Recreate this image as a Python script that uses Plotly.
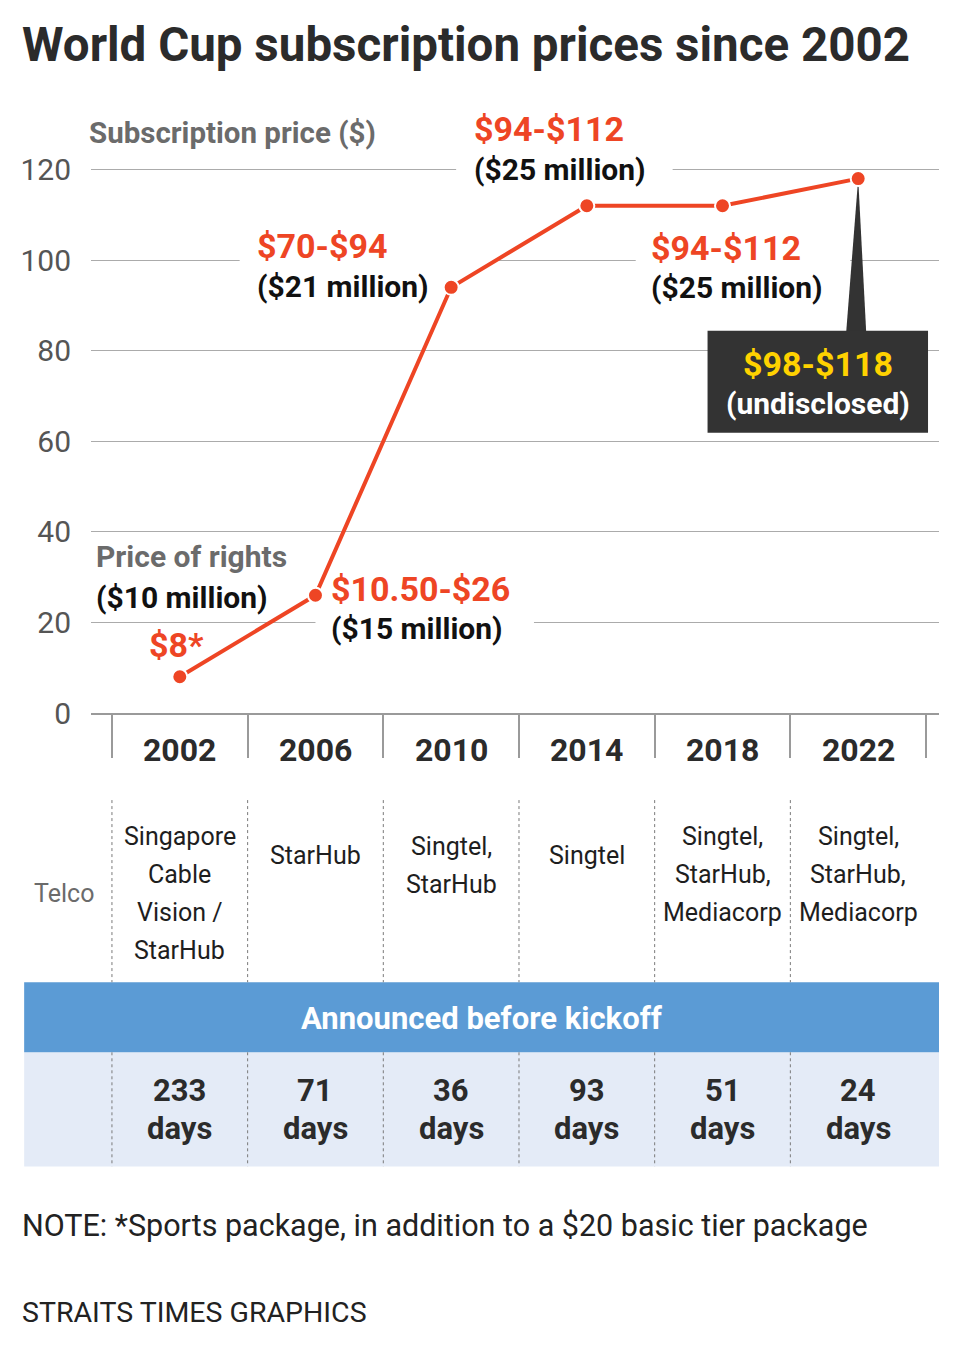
import plotly.graph_objects as go

# ---------------- data ----------------
years = [2002, 2006, 2010, 2014, 2018, 2022]
price_top = [8, 26, 94, 112, 112, 118]
price_labels = ["$8*", "$10.50-$26", "$70-$94", "$94-$112", "$94-$112", "$98-$118"]
rights_labels = ["($10 million)", "($15 million)", "($21 million)", "($25 million)",
                 "($25 million)", "(undisclosed)"]
telcos = [["Singapore", "Cable", "Vision /", "StarHub"],
          ["StarHub"],
          ["Singtel,", "StarHub"],
          ["Singtel"],
          ["Singtel,", "StarHub,", "Mediacorp"],
          ["Singtel,", "StarHub,", "Mediacorp"]]
days_before = [233, 71, 36, 93, 51, 24]
y_ticks = [0, 20, 40, 60, 80, 100, 120]

title_text = "World Cup subscription prices since 2002"
note_text = "NOTE: *Sports package, in addition to a $20 basic tier package"
credit_text = "STRAITS TIMES GRAPHICS"

# ---------------- style / layout ----------------
OFF = 8                                  # page body margin
PAGE_W, PAGE_H = 960, 1356
L, R, B = 89, 939, 713                   # plot area edges in page pixels
KY = (713 - 170) / 120.0                 # pixels per $ on y
YMAX = 121
T = B - YMAX * KY
COL = 34.0                               # pixels per year
X0 = years[0] - (178 - L) / COL
X1 = X0 + (R - L) / COL

RED = "#ee4524"
GREY = "#6b6b6b"
FONT = "Roboto"


def PX(px):
    return (px - L) / (R - L)


def PY(py):
    return (B - py) / (B - T)


def DX(px):
    return X0 + (px - L) / COL


def DY(py):
    return (B - py) / KY


fig = go.Figure()

fig.add_trace(go.Scatter(
    x=years, y=price_top, mode="lines+markers",
    line=dict(color=RED, width=4),
    marker=dict(size=15, color=RED, line=dict(color="white", width=2)),
    cliponaxis=False, hoverinfo="skip", showlegend=False,
))

annotations = []
shapes = []


def ann(text, x, y, size, color, bold=False, xanchor="left", xref="paper", yref="paper"):
    annotations.append(dict(
        text=text, x=x, y=y, xref=xref, yref=yref, xanchor=xanchor, yanchor="middle",
        showarrow=False, borderpad=0,
        font=dict(family=FONT, size=size, color=color, weight=700 if bold else 400),
    ))


# title and axis caption
ann(title_text, PX(19), PY(46), 47.5, "#2b2b2b", bold=True)
ann("Subscription price ($)", PX(86), PY(134), 29.5, GREY, bold=True)

# white masks breaking gridlines behind labels
masks = [(120, 455, 672), (100, 238, 497), (100, 635, 850), (20, 314, 533)]
for val, a, b in masks:
    shapes.append(dict(type="rect", xref="x", yref="y", x0=DX(a), x1=DX(b),
                       y0=val - 1.3, y1=val + 1.3, fillcolor="white",
                       line=dict(width=0), layer="between"))

# point labels (left pixel, red-line centre, black-line centre)
label_pos = [(150, 645, 598), (333, 589, 629), (258, 246, 287),
             (476, 130, 170), (653, 248, 288)]
for i, (lx, ry, by) in enumerate(label_pos):
    ann(price_labels[i], PX(lx - 4), PY(ry), 34, RED, bold=True)
    if i == 0:
        ann(rights_labels[i], PX(93), PY(by), 30, "#111111", bold=True)
    else:
        ann(rights_labels[i], PX(lx - 4), PY(by), 30, "#111111", bold=True)
ann("Price of rights", PX(93), PY(557), 30, GREY, bold=True)

# 2022 call-out box with pointer
shapes.append(dict(type="path", xref="x", yref="y",
                   path=f"M {years[-1]} {price_top[-1]} L {DX(846)} {DY(332)} L {DX(866)} {DY(332)} Z",
                   fillcolor="#333333", line=dict(width=0), layer="between"))
shapes.append(dict(type="rect", xref="x", yref="y", x0=DX(707), x1=DX(928),
                   y0=DY(433), y1=DY(331), fillcolor="#333333", line=dict(width=0),
                   layer="between"))
ann(price_labels[-1], PX(818), PY(364), 34, "#ffd200", bold=True, xanchor="center")
ann(rights_labels[-1], PX(818), PY(404), 30, "white", bold=True, xanchor="center")

# year labels under axis
for yr in years:
    ann(str(yr), yr, PY(750), 32, "#2b2b2b", bold=True, xanchor="center", xref="x")

# ---------------- table ----------------
boundaries = [yr - 2 for yr in years]
for bx in boundaries:
    for ya, yb in [(800, 982), (1052, 1166)]:
        shapes.append(dict(type="line", xref="x", yref="paper", x0=bx, x1=bx,
                           y0=PY(ya), y1=PY(yb),
                           line=dict(color="#7a7a7a", width=1, dash="3px,3px"),
                           layer="above"))

ann("Telco", PX(31), PY(893), 25, GREY)
telco_center = {1: 855, 2: 865, 3: 874, 4: 893}
LINE_GAP = 38
for yr, lines in zip(years, telcos):
    n = len(lines)
    c = telco_center[n]
    for j, line in enumerate(lines):
        yy = c + (j - (n - 1) / 2) * LINE_GAP
        ann(line, yr, PY(yy), 25, "#1e1e1e", xanchor="center", xref="x")

shapes.insert(0, dict(type="rect", xref="paper", yref="paper", x0=PX(22), x1=PX(939),
                      y0=PY(1052), y1=PY(982), fillcolor="#5b9bd5",
                      line=dict(width=0), layer="below"))
shapes.insert(0, dict(type="rect", xref="paper", yref="paper", x0=PX(22), x1=PX(939),
                      y0=PY(1166), y1=PY(1052), fillcolor="#e4ebf7",
                      line=dict(width=0), layer="below"))
ann("Announced before kickoff", PX(481), PY(1018), 31, "white", bold=True, xanchor="center")
for yr, d in zip(years, days_before):
    ann(str(d), yr, PY(1090), 31, "#2b2b2b", bold=True, xanchor="center", xref="x")
    ann("days", yr, PY(1128), 31, "#2b2b2b", bold=True, xanchor="center", xref="x")

ann(note_text, PX(19), PY(1225), 30.5, "#222222")
ann(credit_text, PX(19), PY(1312), 28.5, "#222222")

fig.update_layout(
    width=PAGE_W - OFF, height=PAGE_H - OFF,
    margin=dict(l=L - OFF, r=PAGE_W - R, t=T - OFF, b=PAGE_H - B, pad=0),
    paper_bgcolor="white", plot_bgcolor="white",
    showlegend=False,
    annotations=annotations, shapes=shapes,
    xaxis=dict(range=[X0, X1], tickmode="array", tickvals=boundaries + [years[-1] + 2],
               ticks="outside", ticklen=43, tickwidth=2, tickcolor="#9a9a9a",
               showticklabels=False, showgrid=False, zeroline=False,
               showline=True, linecolor="#9a9a9a", linewidth=2, fixedrange=True),
    yaxis=dict(range=[0, YMAX], tickmode="array", tickvals=y_ticks,
               ticks="outside", ticklen=13, tickcolor="rgba(0,0,0,0)",
               tickfont=dict(family=FONT, size=30, color="#555555"),
               showgrid=True, gridcolor="#ababab", gridwidth=1, zeroline=False,
               showline=False, fixedrange=True),
)

fig.write_html("out.html")
